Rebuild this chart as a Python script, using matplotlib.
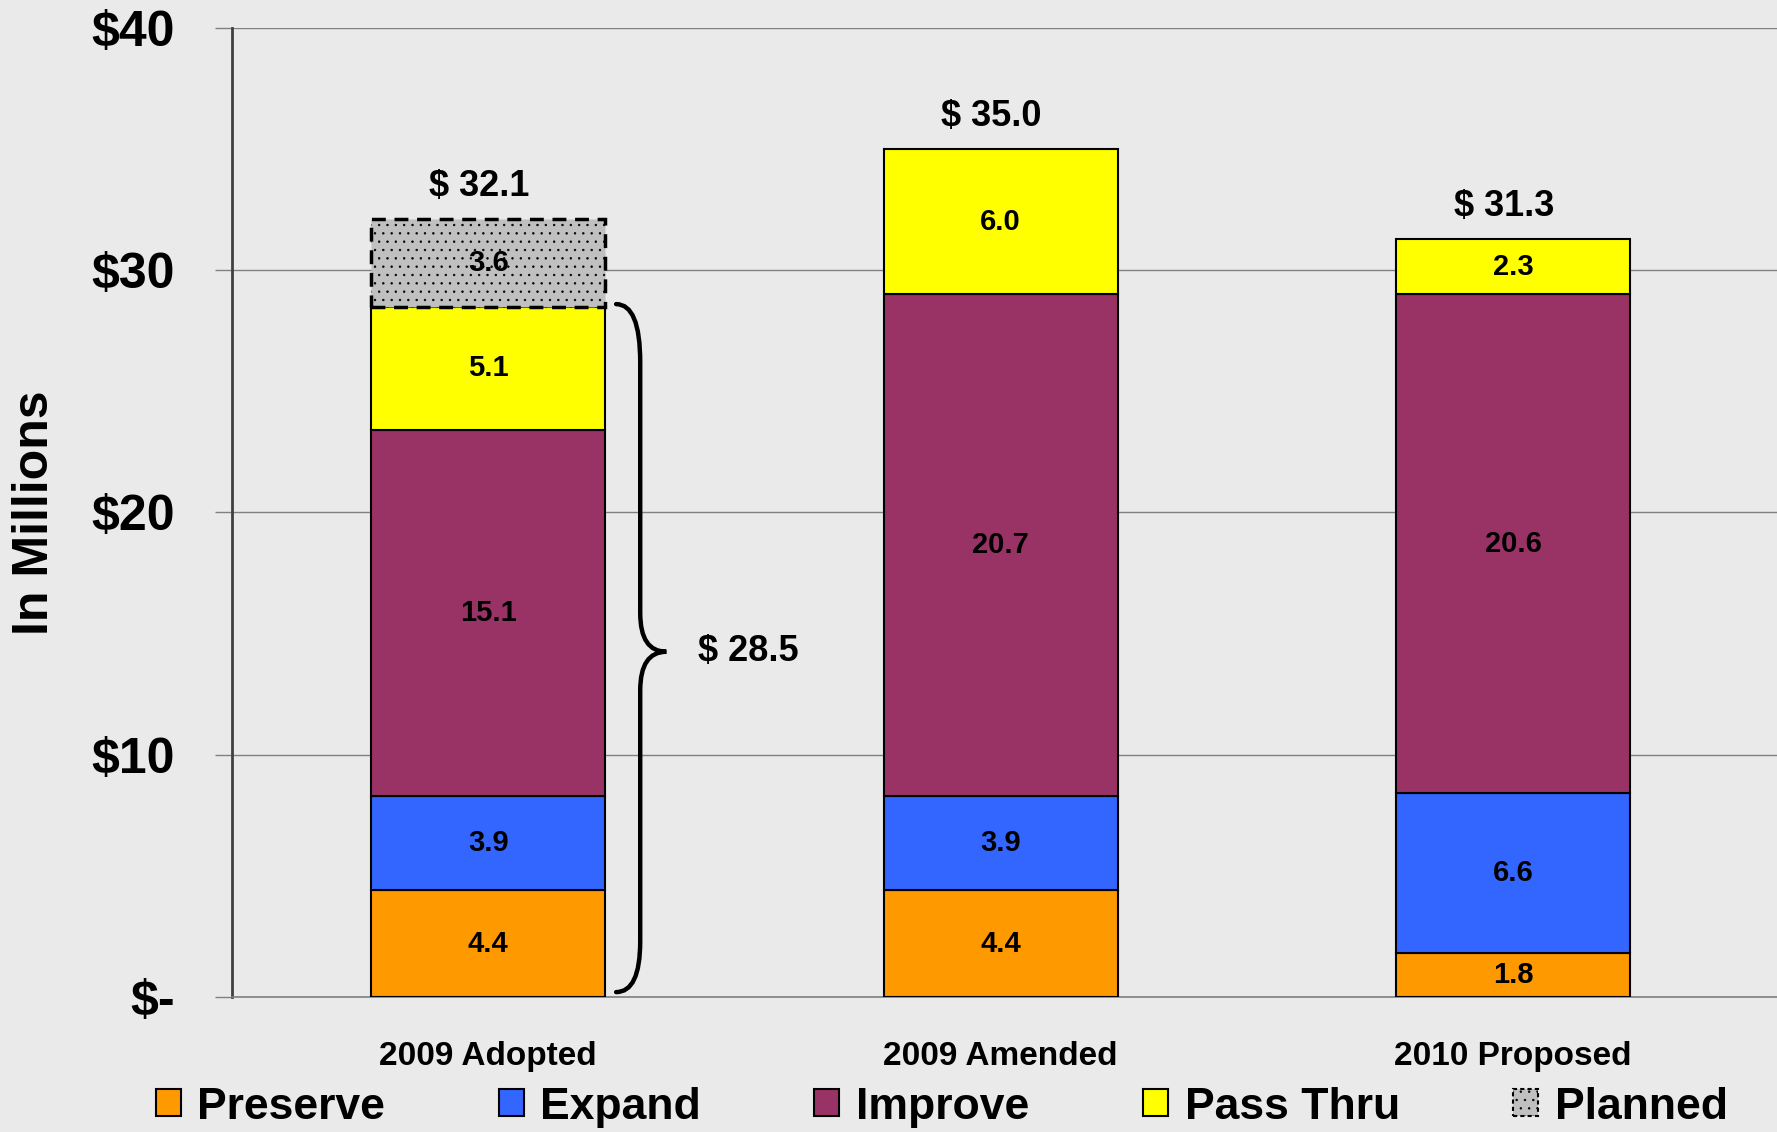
import numpy as np
import matplotlib.pyplot as plt
from matplotlib.path import Path
from matplotlib.patches import PathPatch, Patch

plt.rcParams['font.family'] = ['Liberation Sans', 'DejaVu Sans']
plt.rcParams['font.weight'] = 'bold'
plt.rcParams['hatch.linewidth'] = 0.5

categories = ['2009 Adopted', '2009 Amended', '2010 Proposed']
preserve = [4.4, 4.4, 1.8]
expand = [3.9, 3.9, 6.6]
improve = [15.1, 20.7, 20.6]
pass_thru = [5.1, 6.0, 2.3]
planned = [3.6, 0.0, 0.0]
yticks = [0, 10, 20, 30, 40]
ytick_labels = ['$-', '$10', '$20', '$30', '$40']

series = [('Preserve', preserve, '#FF9900'),
          ('Expand', expand, '#3366FF'),
          ('Improve', improve, '#993366'),
          ('Pass Thru', pass_thru, '#FFFF00')]

bg = '#EAEAEA'
fig = plt.figure(figsize=(17.77, 11.32), dpi=100, facecolor=bg)
ax = fig.add_axes([0.1306, 0.1193, 0.8694, 0.8560], facecolor=bg)

x = np.arange(len(categories))
width = 0.457
bottom = np.zeros(len(categories))
for name, vals, col in series:
    vals = np.array(vals)
    ax.bar(x, vals, width, bottom=bottom, color=col, edgecolor='black',
           linewidth=1.5, zorder=3)
    for xi, b, v in zip(x, bottom, vals):
        ax.text(xi, b + v / 2, f'{v:.1f}', ha='center', va='center',
                fontsize=21, fontweight='bold', zorder=5)
    bottom += vals

# planned segment (only first bar)
pl = np.array(planned)
mask = pl > 0
ax.bar(x[mask], pl[mask], width, bottom=bottom[mask], color='#C0C0C0',
       edgecolor='black', linewidth=2.5, linestyle=(0, (4, 2.5)), hatch='..',
       zorder=4)
for xi, b, v in zip(x[mask], bottom[mask], pl[mask]):
    ax.text(xi, b + v / 2, f'{v:.1f}', ha='center', va='center',
            fontsize=21, fontweight='bold', zorder=5)

totals = bottom + pl
for xi, t in zip(x, totals):
    ax.text(xi - 0.018, t + 1.35, f'$ {t:.1f}', ha='center', va='center',
            fontsize=26, fontweight='bold')

# brace around the non-planned part of the first bar
sub = bottom[0]
x0 = x[0] + width / 2 + 0.021
xm = x[0] + width / 2 + 0.068
xt = x[0] + width / 2 + 0.119
ym = sub / 2
r1, r2 = 2.3, 1.6
verts = [(x0, sub + 0.1), (xm, sub + 0.1), (xm, sub - r1),
         (xm, ym + r2), (xm, ym), (xt, ym),
         (xm, ym), (xm, ym - r2),
         (xm, r1), (xm, 0.2), (x0, 0.2)]
codes = [Path.MOVETO, Path.CURVE3, Path.CURVE3,
         Path.LINETO, Path.CURVE3, Path.CURVE3,
         Path.CURVE3, Path.CURVE3,
         Path.LINETO, Path.CURVE3, Path.CURVE3]
ax.add_patch(PathPatch(Path(verts, codes), fill=False, lw=3.2,
                       edgecolor='black', capstyle='round', zorder=5))
ax.text(x[0] + width / 2 + 0.18, ym, f'$ {sub:.1f}', ha='left', va='center',
        fontsize=26, fontweight='bold')

ax.set_xlim(-0.5, 2.515)
ax.set_ylim(0, 40)
ax.set_yticks(yticks)
ax.set_yticklabels(ytick_labels, fontsize=36, fontweight='bold')
ax.set_xticks(x)
ax.set_xticklabels(categories, fontsize=24, fontweight='bold')
ax.tick_params(axis='x', length=0, pad=32)
ax.tick_params(axis='y', length=12, width=1, color='#808080', pad=29)
ax.yaxis.grid(True, color='#808080', linewidth=1, zorder=0)
for s in ['top', 'right']:
    ax.spines[s].set_visible(False)
ax.spines['left'].set_color('#404040')
ax.spines['left'].set_linewidth(2)
ax.spines['bottom'].set_color('#808080')
ax.spines['bottom'].set_linewidth(1.2)

fig.text(35 / 1777, 0.547, 'In Millions', rotation=90, ha='center',
         va='center', fontsize=36, fontweight='bold')

handles = [Patch(facecolor=c, edgecolor='black', linewidth=1.5) for _, _, c in series]
handles.append(Patch(facecolor='#C0C0C0', edgecolor='black', linewidth=1.5,
                     linestyle=(0, (2, 1.5)), hatch='..'))
labels = [n for n, _, _ in series] + ['Planned']
fig.legend(handles, labels, loc='center', bbox_to_anchor=(0.530, 0.022),
           ncol=5, frameon=False, prop={'size': 32, 'weight': 'bold'},
           handlelength=0.56, handleheight=0.56, handletextpad=0.38,
           columnspacing=2.55, borderpad=0)

fig.savefig('out.png', dpi=100, facecolor=bg)
